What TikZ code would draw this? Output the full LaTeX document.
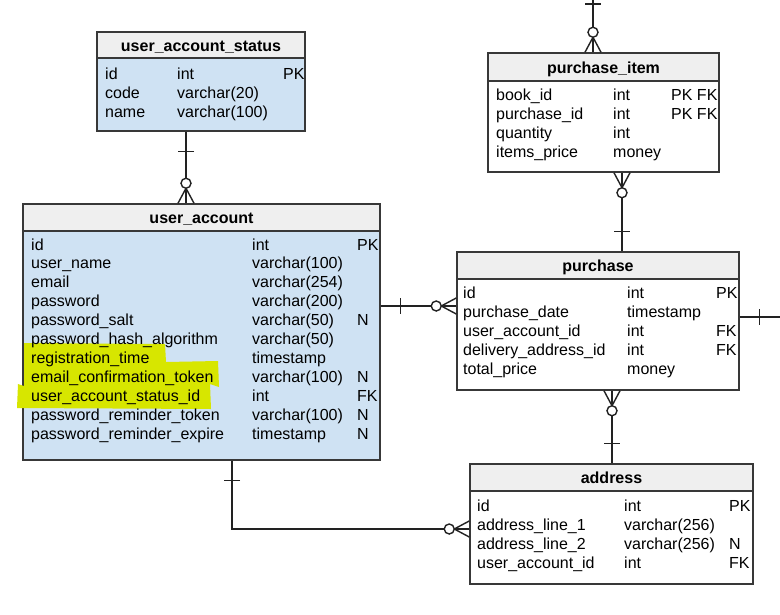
\documentclass[tikz,border=0pt]{standalone}
\usepackage{fontspec}
\setmainfont{Liberation Sans}
\usetikzlibrary{fit}
\definecolor{hdr}{HTML}{EFEFEF}
\definecolor{blu}{HTML}{CFE2F3}
\definecolor{hl}{HTML}{D7E600}
\definecolor{bord}{HTML}{383838}
\definecolor{lin}{HTML}{222222}
\newcommand{\erow}[8]{%
  \node[fld] (#1-n) at (#2,#5) {#6};
  \node[fld] (#1-t) at (#3,#5) {#7};
  \node[fld] (#1-f) at (#4,#5) {#8};}
\begin{document}
\begin{tikzpicture}[x=1pt,y=-1pt,
  tbl/.style={draw=bord, line width=1.5pt, inner sep=0pt},
  fld/.style={anchor=base west, inner sep=0pt, font=\fontsize{16}{19}\selectfont},
  ttl/.style={anchor=base, inner sep=0pt, font=\fontsize{16}{19}\selectfont\bfseries},
  conn/.style={draw=lin, line width=1.4pt},
  onemark/.pic={\draw[conn] (20,-8) -- (20,8);},
  tickmark/.pic={\draw[conn] (0,-8) -- (0,8);},
  manymark/.pic={\draw[conn] (0,-8) -- (15,0) -- (0,8);
                 \draw[conn, fill=white] (20,0) circle[radius=5];}
]
\useasboundingbox (0,0) rectangle (780,614);
\fill[white] (0,0) rectangle (780,614);

% ---------- tables ----------
\node[tbl, fit={(97,32) (305,131)}, fill=blu] (uas) {};
\node[tbl, fit={(97,32) (305,58)}, fill=hdr] (uas-h) {};
\node[tbl, fit={(23,204) (380,460)}, fill=blu] (ua) {};
\node[tbl, fit={(23,204) (380,231)}, fill=hdr] (ua-h) {};
\node[tbl, fit={(488,53) (719,172)}, fill=white] (pi) {};
\node[tbl, fit={(488,53) (719,81)}, fill=hdr] (pi-h) {};
\node[tbl, fit={(457,252) (739,390)}, fill=white] (pu) {};
\node[tbl, fit={(457,252) (739,279)}, fill=hdr] (pu-h) {};
\node[tbl, fit={(470,464) (753,584)}, fill=white] (ad) {};
\node[tbl, fit={(470,464) (753,491)}, fill=hdr] (ad-h) {};

% ---------- highlight ----------
\fill[hl] (24,343) -- (165,344) -- (166,362) -- (218,361) -- (219,387)
  -- (210,384) -- (211,409) -- (17,408) -- (18,384) -- (24,386) -- cycle;

% ---------- titles ----------
\node[ttl] (uas-t) at (201,51) {user\_account\_status};
\node[ttl] (ua-t) at (201.5,223) {user\_account};
\node[ttl] (pi-t) at (603.5,73) {purchase\_item};
\node[ttl] (pu-t) at (598,271) {purchase};
\node[ttl] (ad-t) at (611.5,483) {address};

% ---------- rows ----------
\erow{uas1}{105}{177}{283}{79}{id}{int}{PK}
\erow{uas2}{105}{177}{283}{98}{code}{varchar(20)}{}
\erow{uas3}{105}{177}{283}{117}{name}{varchar(100)}{}

\erow{ua1}{31}{252}{357}{250}{id}{int}{PK}
\erow{ua2}{31}{252}{357}{268.9}{user\_name}{varchar(100)}{}
\erow{ua3}{31}{252}{357}{287.8}{email}{varchar(254)}{}
\erow{ua4}{31}{252}{357}{306.7}{password}{varchar(200)}{}
\erow{ua5}{31}{252}{357}{325.6}{password\_salt}{varchar(50)}{N}
\erow{ua6}{31}{252}{357}{344.5}{password\_hash\_algorithm}{varchar(50)}{}
\erow{ua7}{31}{252}{357}{363.4}{registration\_time}{timestamp}{}
\erow{ua8}{31}{252}{357}{382.3}{email\_confirmation\_token}{varchar(100)}{N}
\erow{ua9}{31}{252}{357}{401.2}{user\_account\_status\_id}{int}{FK}
\erow{ua10}{31}{252}{357}{420.1}{password\_reminder\_token}{varchar(100)}{N}
\erow{ua11}{31}{252}{357}{439}{password\_reminder\_expire}{timestamp}{N}

\erow{pi1}{496}{613}{671}{100}{book\_id}{int}{PK FK}
\erow{pi2}{496}{613}{671}{119}{purchase\_id}{int}{PK FK}
\erow{pi3}{496}{613}{671}{138}{quantity}{int}{}
\erow{pi4}{496}{613}{671}{157}{items\_price}{money}{}

\erow{pu1}{463}{627}{716}{298}{id}{int}{PK}
\erow{pu2}{463}{627}{716}{317}{purchase\_date}{timestamp}{}
\erow{pu3}{463}{627}{716}{336}{user\_account\_id}{int}{FK}
\erow{pu4}{463}{627}{716}{355}{delivery\_address\_id}{int}{FK}
\erow{pu5}{463}{627}{716}{374}{total\_price}{money}{}

\erow{ad1}{477}{624}{729}{511}{id}{int}{PK}
\erow{ad2}{477}{624}{729}{530}{address\_line\_1}{varchar(256)}{}
\erow{ad3}{477}{624}{729}{549}{address\_line\_2}{varchar(256)}{N}
\erow{ad4}{477}{624}{729}{568}{user\_account\_id}{int}{FK}

% ---------- connectors ----------
\coordinate (topend) at (593,0);
\coordinate (rightend) at (780,317);

% user_account_status -> user_account
\draw[conn] (186,0 |- uas.south) -- (186,0 |- ua.north);
\path (186,0 |- uas.south) pic[rotate=-90] {onemark};
\path (186,0 |- ua.north) pic[rotate=90] {manymark};

% (off picture) -> purchase_item
\draw[conn] (593,0 |- pi.north) -- (topend);
\path (593,4) pic[rotate=90] {tickmark};
\path (593,0 |- pi.north) pic[rotate=90] {manymark};

% purchase_item -> purchase
\draw[conn] (622,0 |- pi.south) -- (622,0 |- pu.north);
\path (622,0 |- pi.south) pic[rotate=-90] {manymark};
\path (622,0 |- pu.north) pic[rotate=90] {onemark};

% user_account -> purchase
\draw[conn] (ua.east |- 0,306) -- (pu.west |- 0,306);
\path (ua.east |- 0,306) pic {onemark};
\path (pu.west |- 0,306) pic[rotate=180] {manymark};

% purchase -> (off picture)
\draw[conn] (pu.east |- rightend) -- (rightend);
\path (pu.east |- rightend) pic {onemark};

% purchase -> address
\draw[conn] (612,0 |- pu.south) -- (612,0 |- ad.north);
\path (612,0 |- pu.south) pic[rotate=-90] {manymark};
\path (612,0 |- ad.north) pic[rotate=90] {onemark};

% user_account -> address
\draw[conn] (232,0 |- ua.south) |- (ad.west |- 0,529);
\path (232,0 |- ua.south) pic[rotate=-90] {onemark};
\path (ad.west |- 0,529) pic[rotate=180] {manymark};
\end{tikzpicture}
\end{document}
